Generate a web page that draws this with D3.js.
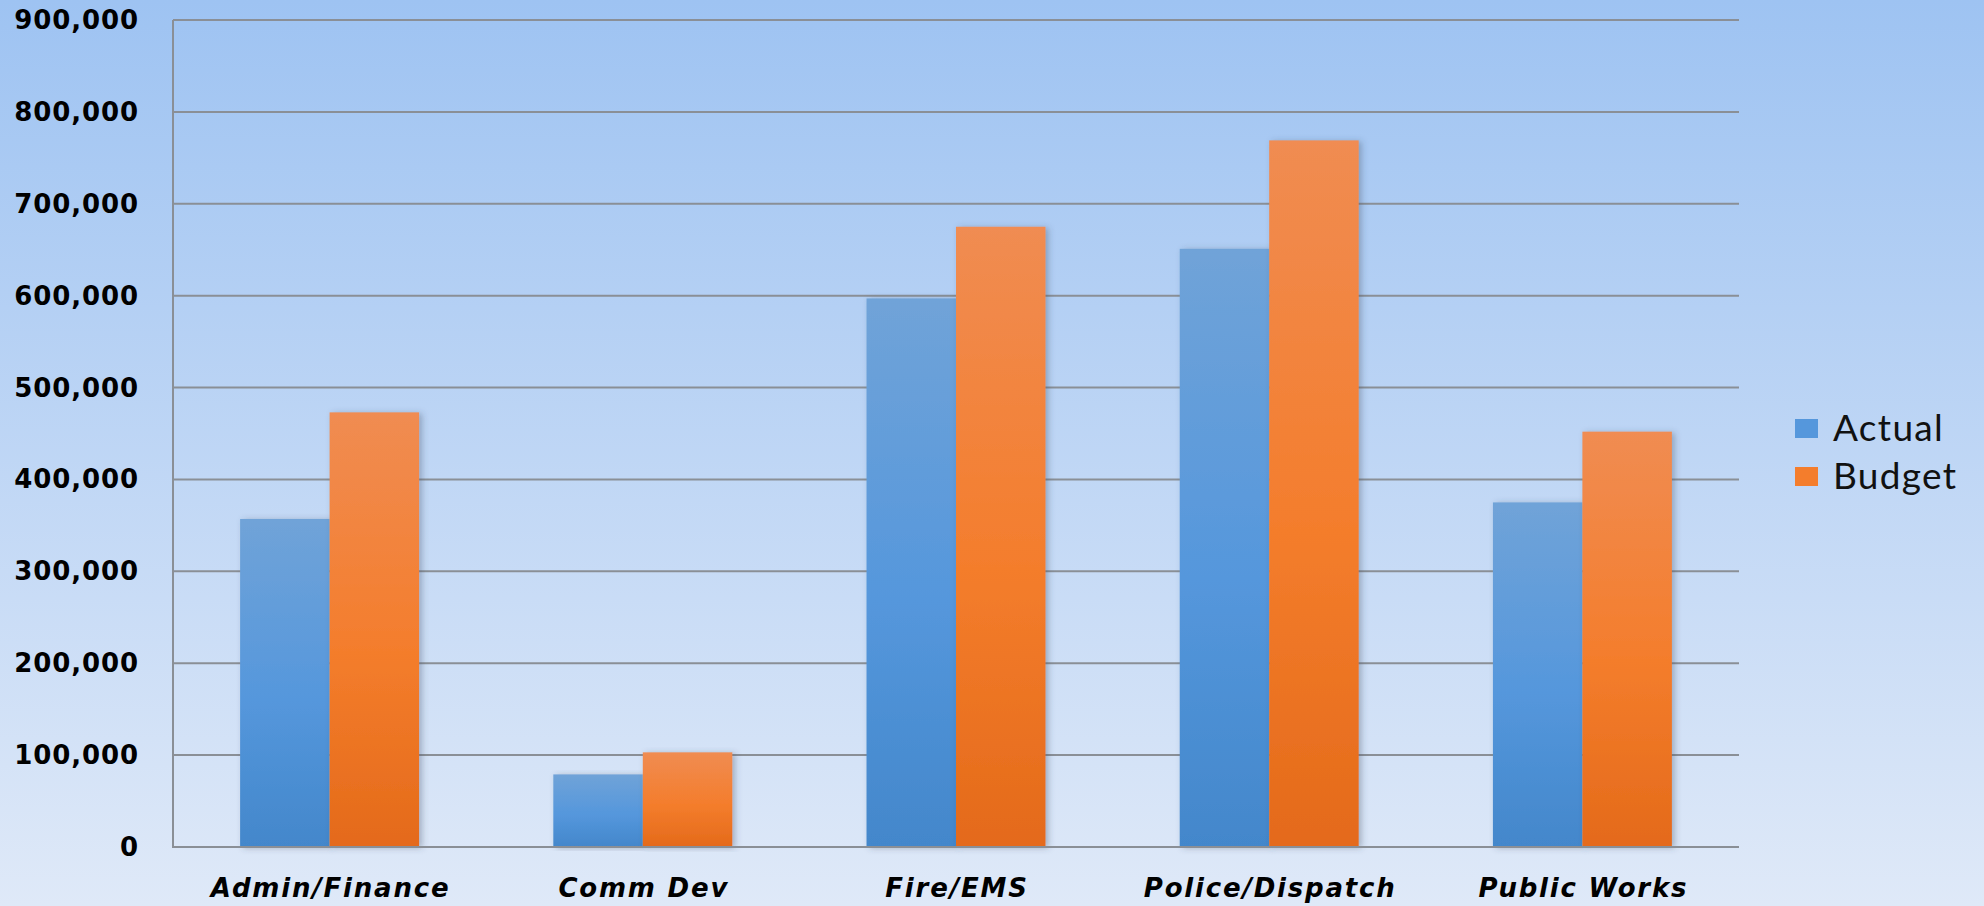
<!DOCTYPE html>
<html>
<head>
<meta charset="utf-8">
<script src="https://cdn.jsdelivr.net/npm/d3@7"></script>
<style>
  html, body { margin: 0; padding: 0; overflow: hidden; }
  svg { display: block; }
</style>
</head>
<body>
<svg id="chart" width="1984" height="906"></svg>
<script>
const categories = ["Admin/Finance", "Comm Dev", "Fire/EMS", "Police/Dispatch", "Public Works"];
const seriesNames = ["Actual", "Budget"];
const actualValues = [357000, 79000, 597000, 651000, 375000];
const budgetValues = [473000, 103000, 675000, 769000, 452000];
const yTicks = [0, 100000, 200000, 300000, 400000, 500000, 600000, 700000, 800000, 900000];

const W = 1984, H = 906;
const plot = { left: 173, right: 1739, top: 20, bottom: 847 };

const svg = d3.select("#chart");
const defs = svg.append("defs");

const bg = defs.append("linearGradient").attr("id", "bg").attr("x1", 0).attr("y1", 0).attr("x2", 0).attr("y2", 1);
bg.append("stop").attr("offset", "0%").attr("stop-color", "#9ec3f2");
bg.append("stop").attr("offset", "100%").attr("stop-color", "#dfe9f8");

const gBlue = defs.append("linearGradient").attr("id", "gBlue").attr("x1", 0).attr("y1", 0).attr("x2", 0).attr("y2", 1);
gBlue.append("stop").attr("offset", "0%").attr("stop-color", "#70a3d8");
gBlue.append("stop").attr("offset", "55%").attr("stop-color", "#5597dc");
gBlue.append("stop").attr("offset", "100%").attr("stop-color", "#4387cb");

const gOrange = defs.append("linearGradient").attr("id", "gOrange").attr("x1", 0).attr("y1", 0).attr("x2", 0).attr("y2", 1);
gOrange.append("stop").attr("offset", "0%").attr("stop-color", "#f08c52");
gOrange.append("stop").attr("offset", "55%").attr("stop-color", "#f47d2c");
gOrange.append("stop").attr("offset", "100%").attr("stop-color", "#e46a1a");

const shadow = defs.append("filter").attr("id", "shadow").attr("x", "-20%").attr("y", "-5%").attr("width", "140%").attr("height", "110%");
shadow.append("feDropShadow").attr("dx", 3).attr("dy", 1).attr("stdDeviation", 3).attr("flood-color", "#3a4a60").attr("flood-opacity", 0.35);

svg.append("rect").attr("width", W).attr("height", H).attr("fill", "url(#bg)");

const x0 = d3.scaleBand().domain(categories).range([plot.left, plot.right]).paddingInner(0).paddingOuter(0);
const x1 = d3.scaleBand().domain(seriesNames).range([0, x0.bandwidth()]).paddingInner(0).paddingOuter(0.75);
const y = d3.scaleLinear().domain([0, 900000]).range([plot.bottom, plot.top]);
const fmt = d3.format(",");

svg.append("g").selectAll("line").data(yTicks.filter(d => d > 0)).join("line")
  .attr("x1", plot.left).attr("x2", plot.right)
  .attr("y1", d => y(d)).attr("y2", d => y(d))
  .attr("stroke", "#8a8f96").attr("stroke-width", 2);

svg.append("g").selectAll("text").data(yTicks).join("text")
  .attr("x", 139).attr("y", d => y(d) + 9)
  .attr("text-anchor", "end")
  .attr("font-family", "'DejaVu Sans', Verdana, sans-serif")
  .attr("font-weight", "bold")
  .attr("font-size", 26)
  .attr("letter-spacing", 0.9)
  .attr("fill", "#000")
  .text(d => fmt(d));

const data = categories.map((c, i) => ({ cat: c, vals: [
  { s: "Actual", v: actualValues[i] },
  { s: "Budget", v: budgetValues[i] }
]}));

const groups = svg.append("g").selectAll("g").data(data).join("g")
  .attr("transform", d => `translate(${x0(d.cat)},0)`);
groups.selectAll("rect").data(d => d.vals).join("rect")
  .attr("x", d => x1(d.s)).attr("width", x1.bandwidth())
  .attr("y", d => y(d.v)).attr("height", d => y(0) - y(d.v))
  .attr("fill", d => d.s === "Actual" ? "url(#gBlue)" : "url(#gOrange)")
  .attr("filter", "url(#shadow)");

svg.append("line").attr("x1", plot.left).attr("x2", plot.left).attr("y1", plot.top).attr("y2", plot.bottom)
  .attr("stroke", "#8a8f96").attr("stroke-width", 2);
svg.append("line").attr("x1", plot.left - 1).attr("x2", plot.right).attr("y1", plot.bottom).attr("y2", plot.bottom)
  .attr("stroke", "#8a8f96").attr("stroke-width", 2);

svg.append("g").selectAll("text").data(categories).join("text")
  .attr("x", d => x0(d) + x0.bandwidth() / 2 + 1).attr("y", 897)
  .attr("text-anchor", "middle")
  .attr("font-family", "'DejaVu Sans', Verdana, sans-serif")
  .attr("font-weight", "bold").attr("font-style", "italic")
  .attr("font-size", 26)
  .attr("letter-spacing", 1.8)
  .attr("fill", "#000")
  .text(d => d);

const legendColors = ["#5597dc", "#f47d2c"];
const leg = svg.append("g").selectAll("g").data(seriesNames).join("g")
  .attr("transform", (d, i) => `translate(1795, ${419 + i * 48})`);
leg.append("rect").attr("width", 23).attr("height", 19).attr("fill", (d, i) => legendColors[i]);
leg.append("text").attr("x", 38).attr("y", 22)
  .attr("font-family", "Lato, 'Open Sans', sans-serif")
  .attr("font-size", 37).attr("letter-spacing", 1.3)
  .attr("fill", "#111")
  .text(d => d);
</script>
</body>
</html>
